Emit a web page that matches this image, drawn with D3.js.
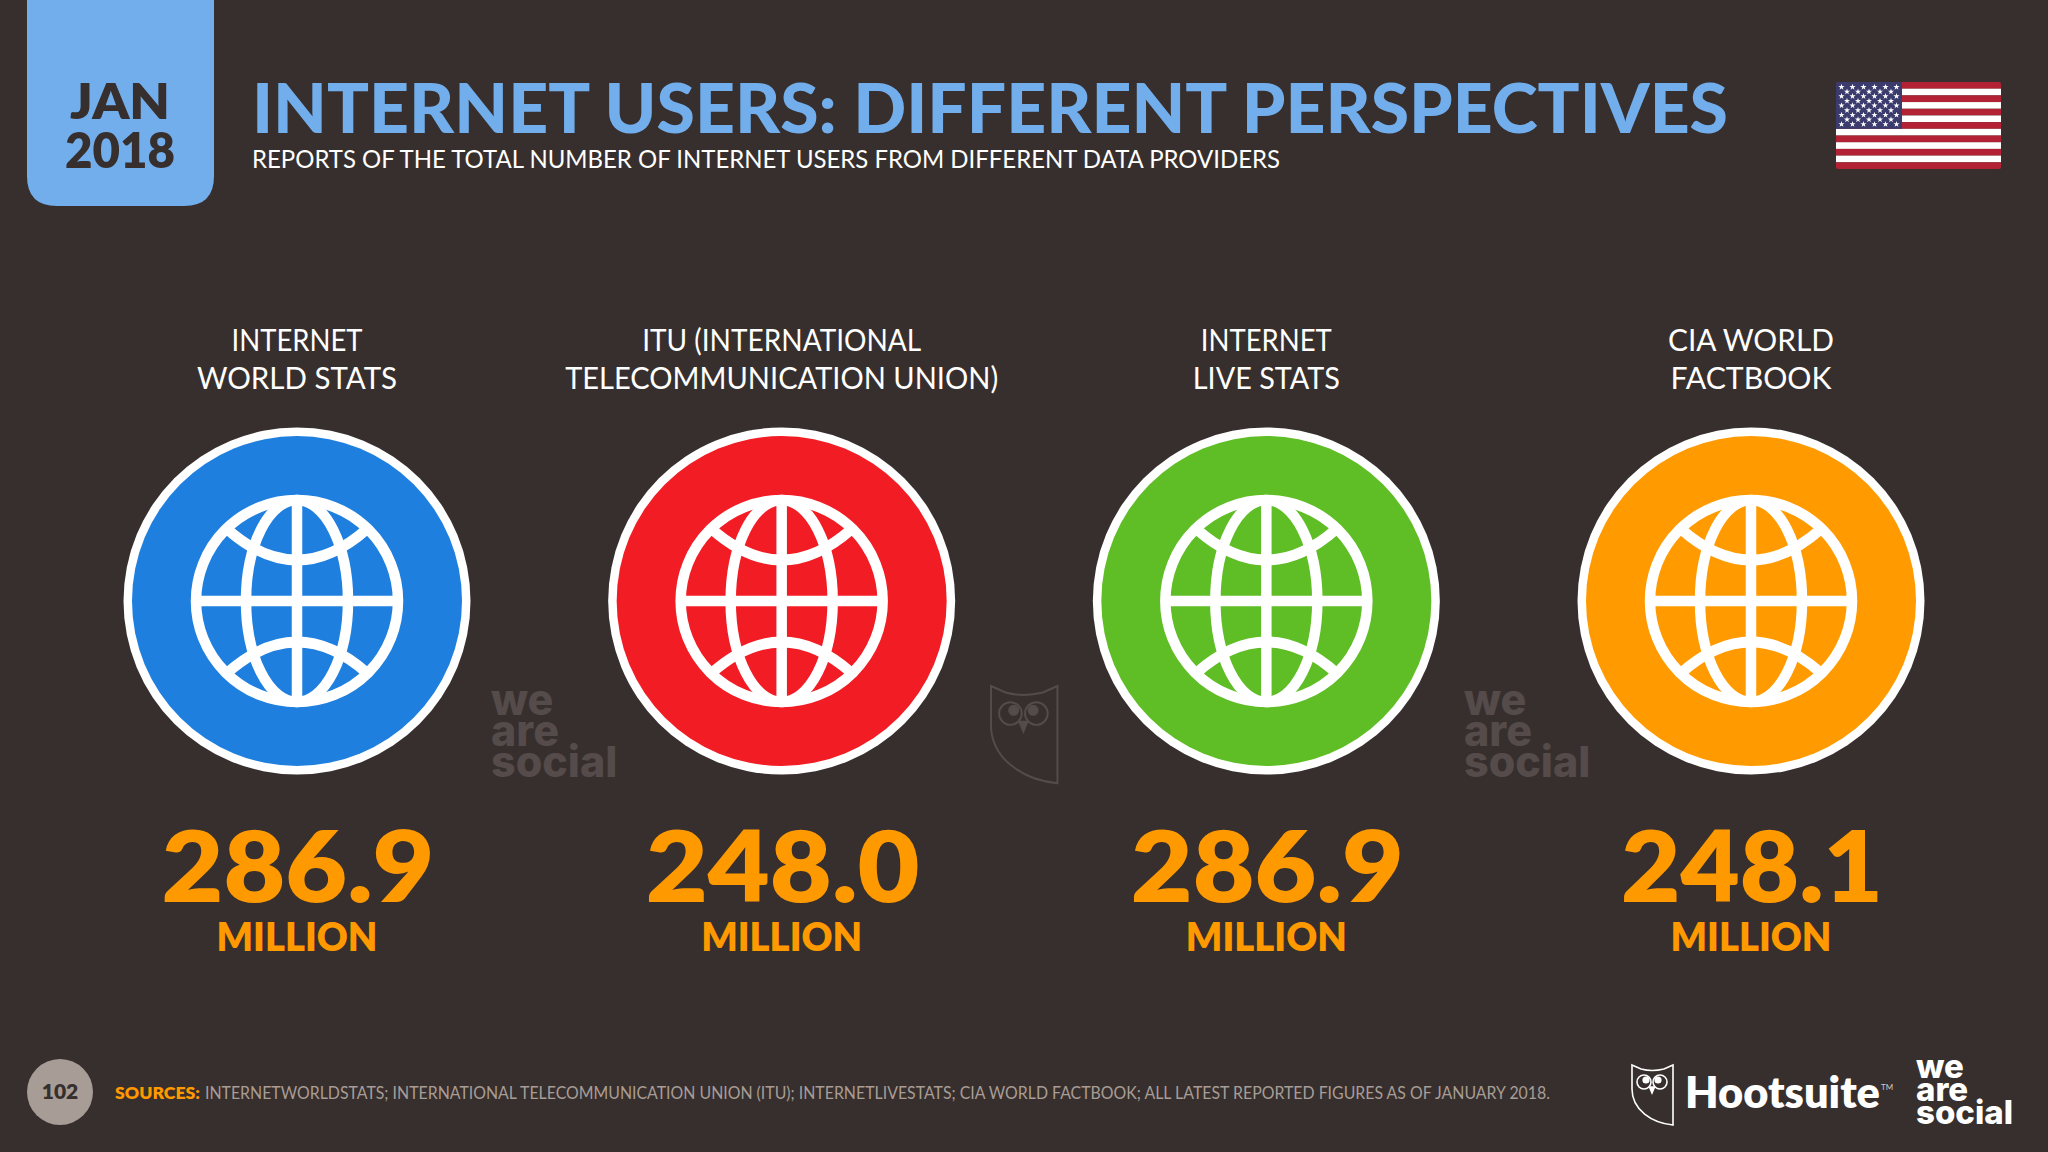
<!DOCTYPE html>
<html>
<head>
<meta charset="utf-8">
<script src="https://cdn.jsdelivr.net/npm/d3@7"></script>
<style>
  html, body { margin: 0; padding: 0; background: #372f2d; }
  svg { display: block; }
  text { font-family: Lato, sans-serif; }
</style>
</head>
<body>
<svg id="chart" width="2048" height="1152"></svg>
<script>
// data
var providers = ["Internet World Stats", "ITU", "Internet Live Stats", "CIA World Factbook"];
var labelTop = ["INTERNET", "ITU (INTERNATIONAL", "INTERNET", "CIA WORLD"];
var labelBottom = ["WORLD STATS", "TELECOMMUNICATION UNION)", "LIVE STATS", "FACTBOOK"];
var usersMillions = [286.9, 248.0, 286.9, 248.1];
var circleColors = ["#1f7fdf", "#f21c24", "#5fbd25", "#ff9b00"];

// measured widths of the text lines (the slide font is narrower than Lato)
var labelTopWidths = [131, 279, 131, 166];
var labelBottomWidths = [200, 433, 147, 161];
var valueWidths = [273, 274, 273, 262];

var bg = "#372f2d";
var blue = "#72aeec";
var orange = "#ff9900";
var grey = "#a89d96";
var mark = "#544b4a";

var svg = d3.select("#chart");

svg.append("rect").attr("width", 2048).attr("height", 1152).attr("fill", bg);

// header tab with rounded bottom corners
var tab = d3.path();
tab.moveTo(27, 0);
tab.lineTo(27, 176);
tab.quadraticCurveTo(27, 206, 57, 206);
tab.lineTo(184, 206);
tab.quadraticCurveTo(214, 206, 214, 176);
tab.lineTo(214, 0);
tab.closePath();
svg.append("path").attr("d", tab.toString()).attr("fill", blue);

function label(x, y, str, size, weight, color, anchor, length) {
  var t = svg.append("text")
    .attr("x", x).attr("y", y)
    .attr("font-size", size).attr("font-weight", weight)
    .attr("fill", color).attr("text-anchor", anchor || "start")
    .text(str);
  if (length) t.attr("textLength", length).attr("lengthAdjust", "spacingAndGlyphs");
  return t;
}

label(120, 119, "JAN", 50, 800, bg, "middle", 100);
label(120, 168, "2018", 50, 800, bg, "middle", 110);
label(252, 133, "INTERNET USERS: DIFFERENT PERSPECTIVES", 69, 900, blue, "start", 1476);
label(252, 168, "REPORTS OF THE TOTAL NUMBER OF INTERNET USERS FROM DIFFERENT DATA PROVIDERS", 25, 400, "#ffffff", "start", 1028);

// flag
var flagY = d3.scaleBand().domain(d3.range(13)).range([82, 169]);
var flag = svg.append("g");
svg.append("clipPath").attr("id", "flagClip").append("rect")
  .attr("x", 1836).attr("y", 82).attr("width", 165).attr("height", 87).attr("rx", 2);
flag.attr("clip-path", "url(#flagClip)");
flag.selectAll("rect.stripe").data(d3.range(13)).join("rect")
  .attr("class", "stripe")
  .attr("x", 1836).attr("width", 165)
  .attr("y", function (d) { return flagY(d); })
  .attr("height", flagY.bandwidth())
  .attr("fill", function (d) { return d % 2 ? "#ffffff" : "#b22234"; });
flag.append("rect").attr("x", 1836).attr("y", 82).attr("width", 66)
  .attr("height", flagY(7) - 82)
  .attr("fill", "#3c3b6e");
var star = d3.symbol().type(d3.symbolStar).size(12)();
d3.range(9).forEach(function (row) {
  var n = row % 2 ? 5 : 6;
  d3.range(n).forEach(function (col) {
    flag.append("path").attr("d", star).attr("fill", "#ffffff")
      .attr("transform", "translate(" + (1841.5 + col * 11 + (row % 2 ? 5.5 : 0)) + "," + (87 + row * 4.65) + ")");
  });
});

// columns
var xCol = d3.scalePoint().domain(providers).range([297, 1751]);
var fmt = d3.format(".1f");
var cy = 601;

providers.forEach(function (p, i) {
  var cx = xCol(p);
  var col = svg.append("g").attr("class", "column");

  label(cx, 351, labelTop[i], 30, 400, "#ffffff", "middle", labelTopWidths[i]);
  label(cx, 389, labelBottom[i], 30, 400, "#ffffff", "middle", labelBottomWidths[i]);

  col.append("circle").attr("cx", cx).attr("cy", cy).attr("r", 173.5).attr("fill", "#ffffff");
  col.append("circle").attr("cx", cx).attr("cy", cy).attr("r", 165).attr("fill", circleColors[i]);

  // globe icon
  var globe = col.append("g").attr("transform", "translate(" + cx + "," + cy + ")")
    .attr("fill", "none").attr("stroke", "#ffffff").attr("stroke-width", 10.5);
  globe.append("circle").attr("r", 101);
  globe.append("ellipse").attr("rx", 51).attr("ry", 101);
  globe.append("line").attr("x1", -101).attr("x2", 101);
  globe.append("line").attr("y1", -101).attr("y2", 101);
  [-1, 1].forEach(function (s) {
    var arc = d3.path();
    arc.moveTo(-70, s * 72);
    arc.quadraticCurveTo(0, s * 10, 70, s * 72);
    globe.append("path").attr("d", arc.toString());
  });

  label(cx + 1, 902, fmt(usersMillions[i]), 99, 800, orange, "middle", valueWidths[i]);
  label(cx, 951, "MILLION", 40, 800, orange, "middle", 161);
});

// we are social block
function weAreSocial(x, size, ys, color) {
  ["we", "are", "social"].forEach(function (w, i) {
    label(x, ys[i], w, size, 800, color).style("font-family", "Inter, sans-serif");
  });
}
weAreSocial(491, 43, [715, 746, 777], mark);
weAreSocial(1464, 43, [715, 746, 777], mark);
weAreSocial(1916, 33, [1078, 1101, 1124], "#ffffff");

// owl logo
function owl(x, y, k, color, sw) {
  var g = svg.append("g").attr("transform", "translate(" + x + "," + y + ") scale(" + k + ")")
    .attr("fill", "none").attr("stroke", color).attr("stroke-width", sw);
  g.append("path").attr("d", "M0,0 L9,4 Q20,7 32,4 L41,0 L41,60 C20,58 0,45 0,24 Z");
  g.append("circle").attr("cx", 12).attr("cy", 17).attr("r", 7);
  g.append("circle").attr("cx", 28).attr("cy", 17).attr("r", 7);
  g.append("circle").attr("cx", 14).attr("cy", 15).attr("r", 2.8).attr("fill", color);
  g.append("circle").attr("cx", 26).attr("cy", 15).attr("r", 2.8).attr("fill", color);
  g.append("path").attr("d", "M17.5,22 L22.5,22 L20,28 Z").attr("fill", color);
}
owl(991, 686, 1.62, mark, 1.2);
owl(1632, 1065, 1, "#ffffff", 1.6);

label(1685, 1108, "Hootsuite", 44, 800, "#ffffff", "start", 195);
label(1881, 1090, "TM", 8, 400, "#cccccc");

// footer
svg.append("circle").attr("cx", 60).attr("cy", 1092).attr("r", 33).attr("fill", grey);
label(60, 1099, "102", 21, 800, bg, "middle");
label(115, 1099, "SOURCES:", 17, 800, orange, "start", 85);
label(205, 1099, "INTERNETWORLDSTATS; INTERNATIONAL TELECOMMUNICATION UNION (ITU); INTERNETLIVESTATS; CIA WORLD FACTBOOK; ALL LATEST REPORTED FIGURES AS OF JANUARY 2018.", 17, 400, grey, "start", 1345);
</script>
</body>
</html>
